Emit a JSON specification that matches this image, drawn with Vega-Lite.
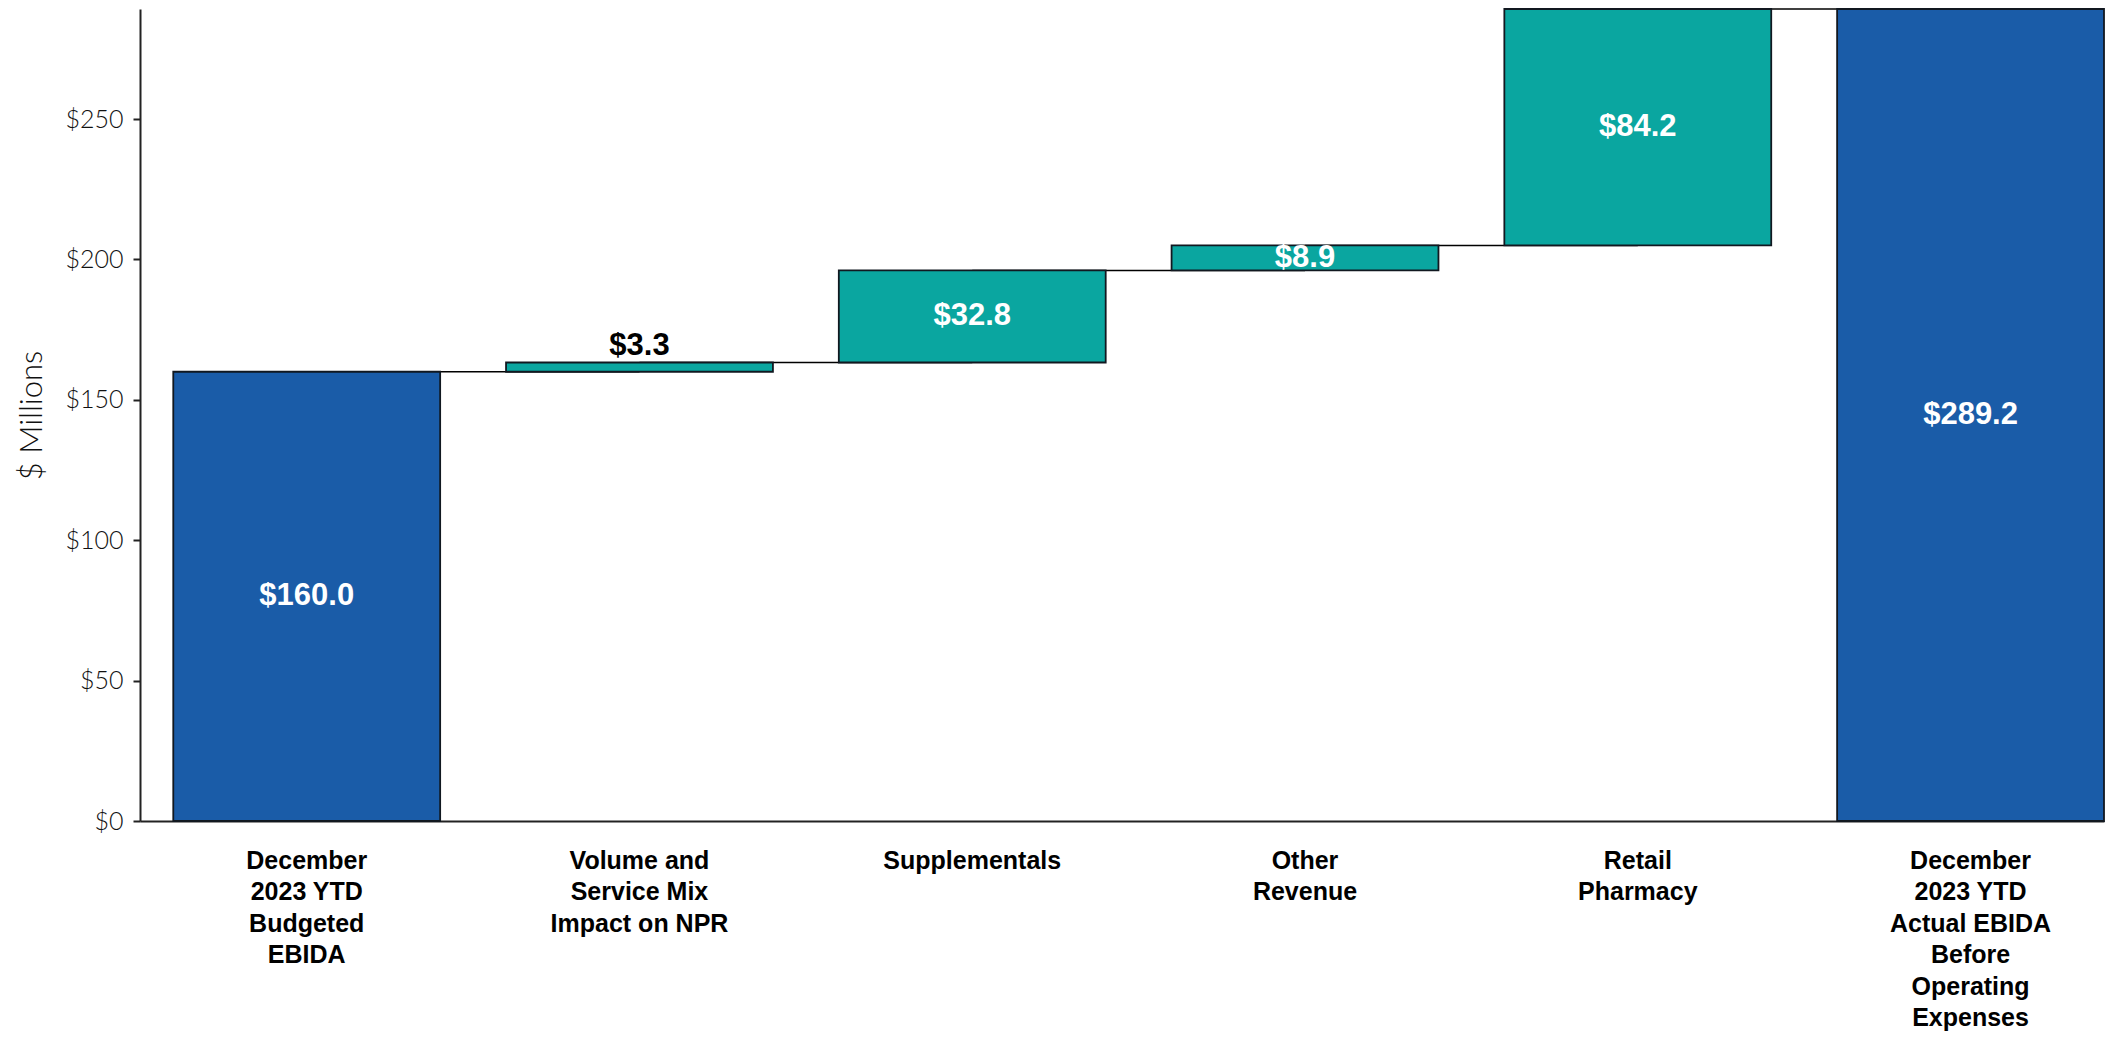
{
  "$schema": "https://vega.github.io/schema/vega-lite/v6.json",
  "width": 1964,
  "height": 812,
  "padding": {"left": 16, "top": 8, "right": 5, "bottom": 5},
  "background": "white",
  "config": {"view": {"stroke": null}},
  "datasets": {
    "steps": [
      {"cat": "December|2023 YTD|Budgeted|EBIDA", "start": 0, "end": 160.0, "amount": 160.0, "kind": "total"},
      {"cat": "Volume and|Service Mix|Impact on NPR", "start": 160.0, "end": 163.3, "amount": 3.3, "kind": "change"},
      {"cat": "Supplementals", "start": 163.3, "end": 196.1, "amount": 32.8, "kind": "change"},
      {"cat": "Other|Revenue", "start": 196.1, "end": 205.0, "amount": 8.9, "kind": "change"},
      {"cat": "Retail|Pharmacy", "start": 205.0, "end": 289.2, "amount": 84.2, "kind": "change"},
      {"cat": "December|2023 YTD|Actual EBIDA|Before|Operating|Expenses", "start": 0, "end": 289.2, "amount": 289.2, "kind": "total"}
    ],
    "links": [
      {"from": "December|2023 YTD|Budgeted|EBIDA", "to": "Volume and|Service Mix|Impact on NPR", "level": 160.0},
      {"from": "Volume and|Service Mix|Impact on NPR", "to": "Supplementals", "level": 163.3},
      {"from": "Supplementals", "to": "Other|Revenue", "level": 196.1},
      {"from": "Other|Revenue", "to": "Retail|Pharmacy", "level": 205.0},
      {"from": "Retail|Pharmacy", "to": "December|2023 YTD|Actual EBIDA|Before|Operating|Expenses", "level": 289.2}
    ]
  },
  "encoding": {
    "x": {
      "field": "cat",
      "type": "nominal",
      "sort": null,
      "scale": {
        "domain": [
          "December|2023 YTD|Budgeted|EBIDA",
          "Volume and|Service Mix|Impact on NPR",
          "Supplementals",
          "Other|Revenue",
          "Retail|Pharmacy",
          "December|2023 YTD|Actual EBIDA|Before|Operating|Expenses"
        ],
        "paddingInner": 0.198,
        "paddingOuter": 0.05,
        "align": 1
      },
      "axis": {
        "title": null,
        "labelAngle": 0,
        "ticks": false,
        "domainColor": "#222222",
        "domainWidth": 2,
        "labelExpr": "split(datum.value, '|')",
        "labelFont": "Liberation Sans",
        "labelFontWeight": "bold",
        "labelFontSize": 25,
        "labelLineHeight": 31.5,
        "labelColor": "#000000",
        "labelPadding": 27,
        "labelBaseline": "top"
      }
    }
  },
  "layer": [
    {
      "data": {"name": "links"},
      "mark": {"type": "rule", "color": "#000000", "strokeWidth": 1.5},
      "encoding": {
        "x": {"field": "from", "type": "nominal"},
        "x2": {"field": "to"},
        "y": {"field": "level", "type": "quantitative"}
      }
    },
    {
      "data": {"name": "steps"},
      "mark": {"type": "bar", "stroke": "#111820", "strokeWidth": 1.8},
      "encoding": {
        "y": {
          "field": "start",
          "type": "quantitative",
          "scale": {"domain": [0, 289.2], "nice": false, "zero": true},
          "axis": {
            "title": "$ Millions",
            "values": [0, 50, 100, 150, 200, 250],
            "format": "$.0f",
            "grid": false,
            "domainColor": "#222222",
            "domainWidth": 2,
            "tickColor": "#222222",
            "tickWidth": 2,
            "tickSize": 7,
            "labelPadding": 10,
            "labelFont": "Lato",
            "labelFontWeight": 300,
            "labelFontSize": 25,
            "labelColor": "#111111",
            "titleFont": "Lato",
            "titleFontWeight": 300,
            "titleFontSize": 31,
            "titleColor": "#111111",
            "titlePadding": 16
          }
        },
        "y2": {"field": "end"},
        "color": {
          "field": "kind",
          "type": "nominal",
          "scale": {"domain": ["total", "change"], "range": ["#1a5ca8", "#0aa6a0"]},
          "legend": null
        }
      }
    },
    {
      "data": {"name": "steps"},
      "transform": [
        {"filter": "datum.cat != 'Volume and|Service Mix|Impact on NPR'"},
        {"fold": ["start", "end"], "as": ["edge", "val"]},
        {"aggregate": [{"op": "mean", "field": "val", "as": "mid"}, {"op": "max", "field": "amount", "as": "amount"}], "groupby": ["cat"]}
      ],
      "mark": {"type": "text", "color": "#ffffff", "font": "Liberation Sans", "fontWeight": "bold", "fontSize": 31, "baseline": "middle"},
      "encoding": {
        "y": {"field": "mid", "type": "quantitative"},
        "text": {"field": "amount", "type": "quantitative", "format": "$.1f"}
      }
    },
    {
      "data": {"name": "steps"},
      "transform": [{"filter": "datum.cat == 'Volume and|Service Mix|Impact on NPR'"}],
      "mark": {"type": "text", "color": "#000000", "font": "Liberation Sans", "fontWeight": "bold", "fontSize": 31, "baseline": "alphabetic", "dy": -7},
      "encoding": {
        "y": {"field": "end", "type": "quantitative"},
        "text": {"field": "amount", "type": "quantitative", "format": "$.1f"}
      }
    }
  ]
}
